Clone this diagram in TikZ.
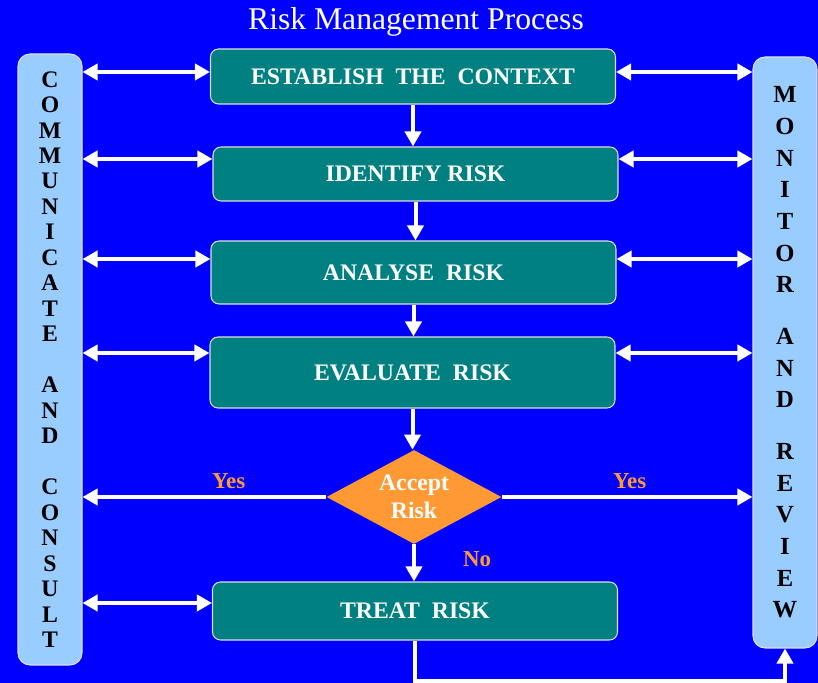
\documentclass[tikz,border=0pt]{standalone}
\usepackage{fontspec}
\setmainfont{Liberation Serif}
\usetikzlibrary{shapes.geometric,arrows.meta}
\definecolor{bgblue}{HTML}{0000FF}
\definecolor{boxteal}{HTML}{008080}
\definecolor{barblue}{HTML}{99CCFF}
\definecolor{accent}{HTML}{FF9933}
\begin{document}
\begin{tikzpicture}[
    box/.style={draw=white!75!gray, line width=.6pt, fill=boxteal, rounded corners=.16cm,
        text=white, font=\bfseries\fontsize{13.5}{16}\selectfont, minimum width=8.1cm},
    bar/.style={draw=white!75!gray, line width=.6pt, fill=barblue, rounded corners=.24cm,
        minimum width=1.28cm, align=center, inner sep=0pt},
    decision/.style={diamond, fill=accent, text=white, align=center, inner sep=0pt,
        minimum width=3.5cm, minimum height=1.88cm, aspect=1.86,
        font=\bfseries\fontsize{13.5}{15.9}\selectfont},
    biarrow/.style={white, line width=.08cm,
        {Triangle[length=.3cm,width=.32cm]}-{Triangle[length=.3cm,width=.32cm]}},
    arrow/.style={white, line width=.08cm, -{Triangle[length=.3cm,width=.32cm]}},
    lbl/.style={text=accent, font=\bfseries\fontsize{13}{15}\selectfont}
]
    \def\w{16.36}
    \def\h{13.66}
    \fill[bgblue] (0, 0) rectangle (\w, \h);
    \useasboundingbox (0, 0) rectangle (\w, \h);
    \node[text=white, font=\fontsize{18}{20}\selectfont] (title) at (8.32, 13.22) {Risk Management Process};
    % side bars
    \node[bar, minimum height=12.22cm, font=\bfseries\fontsize{13.5}{14.5}\selectfont] (consult) at (1.0, 6.47)
        {C\\O\\M\\M\\U\\N\\I\\C\\A\\T\\E\\[14.5pt]A\\N\\D\\[14.5pt]C\\O\\N\\S\\U\\L\\T};
    \node[bar, minimum height=11.82cm, font=\bfseries\fontsize{14}{18}\selectfont] (monitor) at (15.70, 6.61)
        {M\\O\\N\\I\\T\\O\\R\\[11.5pt]A\\N\\D\\[11.5pt]R\\E\\V\\I\\E\\W};
    % process steps
    \node[box, minimum height=1.10cm] (context) at (8.26, 12.13) {ESTABLISH~~THE~~CONTEXT};
    \node[box, minimum height=1.08cm] (identify) at (8.31, 10.18) {IDENTIFY RISK};
    \node[box, minimum height=1.26cm] (analyse) at (8.27, 8.21) {ANALYSE~~RISK};
    \node[box, minimum height=1.42cm] (evaluate) at (8.25, 6.21) {EVALUATE~~RISK};
    \node[decision] (accept) at (8.28, 3.72) {Accept\\Risk};
    \node[box, minimum height=1.16cm] (treat) at (8.30, 1.44) {TREAT~~RISK};
    \draw[arrow] (context.south) -- (context.south |- identify.north);
    \draw[arrow] (identify.south) -- (identify.south |- analyse.north);
    \draw[arrow] (analyse.south) -- (analyse.south |- evaluate.north);
    \draw[arrow] (evaluate.south) -- (evaluate.south |- accept.north);
    \draw[arrow] (accept.south) -- (accept.south |- treat.north);
    \foreach \n/\s in {context/.09, identify/.30, analyse/.27, evaluate/.39} {
        \path ([yshift=\s cm]\n.west) coordinate (l) ([yshift=\s cm]\n.east) coordinate (r);
        \draw[biarrow] (consult.east |- l) -- (l);
        \draw[biarrow] (r) -- (r -| monitor.west);
    }
    \path ([yshift=.16cm]treat.west) coordinate (tl);
    \draw[biarrow] (consult.east |- tl) -- (tl);
    \draw[arrow] (accept.west) -- (accept.west -| consult.east) node[lbl, pos=.4, above] {Yes};
    \draw[arrow] (accept.east) -- (accept.east -| monitor.west) node[lbl, pos=.51, above] {Yes};
    \node[lbl] (no) at ([xshift=1.26cm, yshift=-.3cm]accept.south) {No};
    \draw[arrow] (treat.south) -- ++(0, -.8) -| (monitor.south);
\end{tikzpicture}
\end{document}
